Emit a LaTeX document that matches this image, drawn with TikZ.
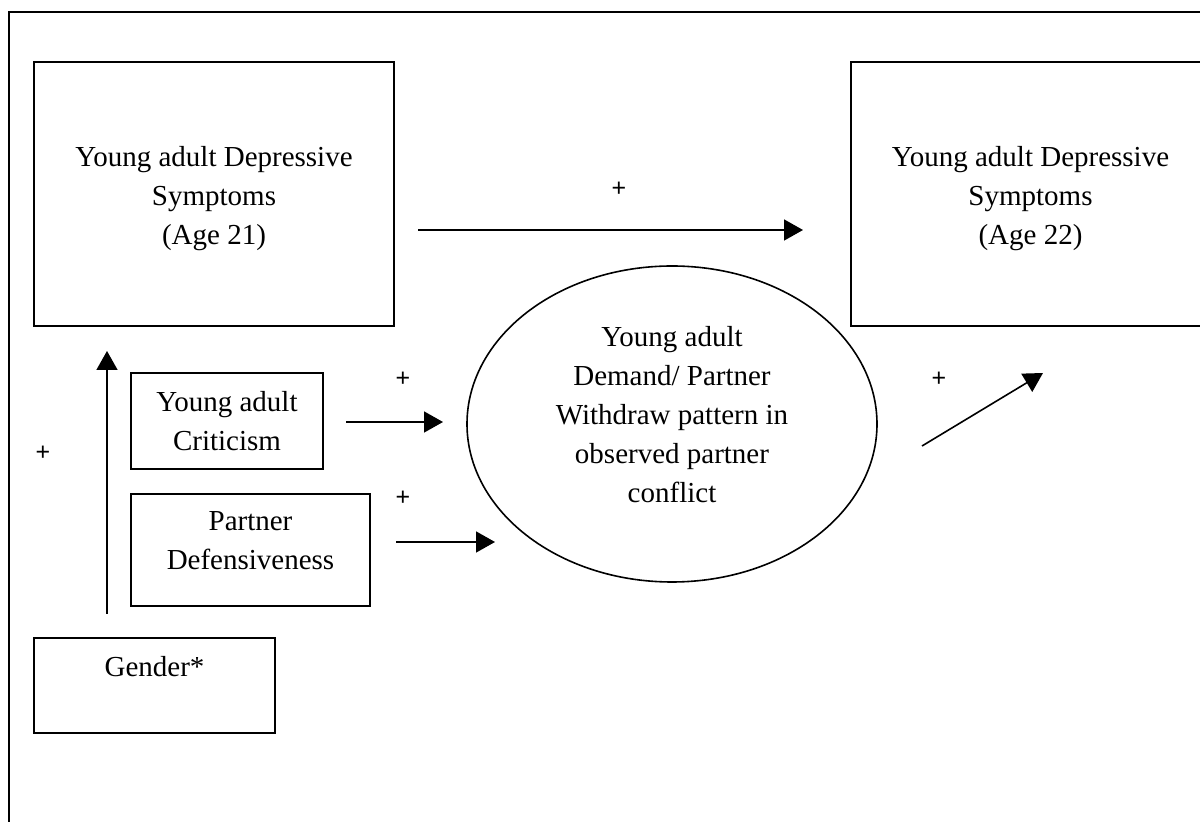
\documentclass[tikz,border=0pt]{standalone}
\usepackage{fontspec}
\setmainfont{Liberation Serif}
\newfontfamily\plusfont{Liberation Sans}
\usepackage{tikz}
\usetikzlibrary{shapes.geometric}
\usetikzlibrary{arrows.meta}
\tikzstyle{caja}=[rectangle, draw, line width=1pt, inner sep=0pt, align=center, font=\fontsize{14.5}{19.5}\selectfont]
\tikzstyle{ovalo}=[ellipse, draw, line width=0.8pt, inner sep=0pt, align=center, font=\fontsize{14.5}{19.5}\selectfont]
\tikzstyle{flecha}=[line width=0.8pt, -{Triangle[length=9.5pt, width=10.5pt]}]
\tikzstyle{signo}=[inner sep=0pt, font=\plusfont\fontsize{12.5}{14}\selectfont]

\begin{document}
\begin{tikzpicture}[x=0.5pt, y=-0.5pt]
            \clip (0,0) rectangle (1200,822);
            \fill[white] (0,0) rectangle (1200,822);
            % Marco
            \draw[line width=1pt] (9,12) rectangle (1240,860);
            % Cajas
            \node[caja, minimum width=180pt, minimum height=132pt] (d21) at (214,194) {\mbox{}\\[-5pt]Young adult Depressive\\Symptoms\\(Age 21)};
            \node[caja, minimum width=179.5pt, minimum height=132pt] (d22) at (1030.5,194) {\mbox{}\\[-5pt]Young adult Depressive\\Symptoms\\(Age 22)};
            \node[caja, minimum width=96pt, minimum height=48pt] (crit) at (227,421) {Young adult\\Criticism};
            \node[caja, minimum width=119.5pt, minimum height=56pt] (def) at (250.5,550) {Partner\\Defensiveness\\[-10pt]\mbox{}};
            \node[caja, minimum width=120.5pt, minimum height=47.5pt] (gen) at (154.5,685.5) {Gender*\\ \mbox{}};
            \node[ovalo, minimum width=205pt, minimum height=158pt] (dw) at (672,424) {Young adult\\Demand/ Partner\\Withdraw pattern in\\observed partner\\conflict\\[-10pt]\mbox{}};
            % Extremos de las flechas
            \coordinate (a1) at (418,230);  \coordinate (b1) at (803,230);
            \coordinate (a2) at (107,614);  \coordinate (b2) at (107,351);
            \coordinate (a3) at (346,422);  \coordinate (b3) at (443,422);
            \coordinate (a4) at (396,542);  \coordinate (b4) at (495,542);
            \coordinate (a5) at (922,446);  \coordinate (b5) at (1043,373);
            % Flechas
            \draw[flecha] (a1) -- (b1);
            \draw[flecha] (a2) -- (b2);
            \draw[flecha] (a3) -- (b3);
            \draw[flecha] (a4) -- (b4);
            \draw[flecha] (a5) -- (b5);
            % Signos
            \node[signo] (s1) at (619,189) {+};
            \node[signo] (s2) at (43,453) {+};
            \node[signo] (s3) at (403,379) {+};
            \node[signo] (s4) at (403,498) {+};
            \node[signo] (s5) at (939,379) {+};
        \end{tikzpicture}
\end{document}
